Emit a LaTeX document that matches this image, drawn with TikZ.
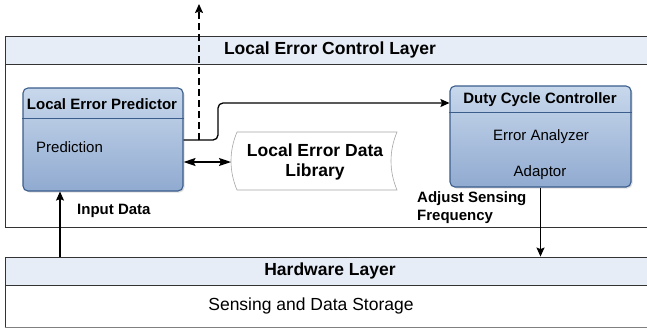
\documentclass[tikz,border=0pt]{standalone}
\usepackage{fontspec}
\setmainfont{Liberation Sans}
\usetikzlibrary{positioning,arrows.meta,calc,shadows}

\definecolor{headblue}{HTML}{E6EDF7}
\definecolor{boxtop}{HTML}{C8D8EC}
\definecolor{boxbottom}{HTML}{90AAD0}
\definecolor{boxline}{HTML}{3A5D8C}
\definecolor{layerline}{HTML}{333333}

\tikzset{
  layerhead/.style={draw=layerline, fill=headblue, line width=0.9pt, minimum width=650pt,
    minimum height=28pt, inner sep=0pt, font=\bfseries\fontsize{17.5}{20}\selectfont},
  layerbody/.style={draw=layerline, fill=white, line width=0.9pt, minimum width=650pt,
    inner sep=0pt, font=\fontsize{17.5}{20}\selectfont},
  unitbox/.style={draw=boxline, line width=1.1pt, rounded corners=5pt, top color=boxtop,
    bottom color=boxbottom, drop shadow={opacity=0.25, shadow xshift=1.5pt, shadow yshift=-1.5pt}},
  unittitle/.style={inner sep=0pt, font=\bfseries\fontsize{15}{18}\selectfont},
  unittext/.style={inner sep=0pt, font=\fontsize{15}{18}\selectfont},
  edgelabel/.style={inner sep=0pt, align=left, font=\bfseries\fontsize{15}{18}\selectfont},
  conn/.style={line width=1.3pt, -{Stealth[length=9pt,width=8pt,inset=1.5pt]}},
  biconn/.style={line width=1.3pt, {Stealth[length=12pt,width=8pt,inset=2pt]}-{Stealth[length=12pt,width=8pt,inset=2pt]}}
}

\begin{document}
\begin{tikzpicture}[x=1pt, y=-1pt]
  \clip (0,0) rectangle (647,330);
  \fill[white] (0,0) rectangle (647,330);

  % Draw the layers
  \node[layerbody, minimum height=163pt] (ctrlbody) at (330,145.5) {};
  \node[layerhead] (ctrlhead) at (330,50) {Local Error Control Layer};
  \node[layerbody, minimum height=42pt] (hwbody) at (330,306) {};
  \node[layerhead] (hwhead) at (330,271) {Hardware Layer};
  \node[unittext, font=\fontsize{17.5}{20}\selectfont] (hwtext) at (311,306) {Sensing and Data Storage};
  \draw[gray, line width=1.6pt] (hwbody.south west) -- (hwbody.south east);

  % Draw the predictor
  \node[unitbox, minimum width=160pt, minimum height=103pt] (pred) at (103,139.5) {};
  \draw[boxline, line width=0.6pt] ($(pred.north west)+(0,31)$) -- ($(pred.north east)+(0,31)$);
  \node[unittitle] (predtitle) at (102,104) {Local Error Predictor};
  \node[unittext, anchor=west] (predtext) at (36,147) {Prediction};

  % Draw the controller
  \node[unitbox, minimum width=181pt, minimum height=101pt] (duty) at (540.5,136.5) {};
  \draw[boxline, line width=0.6pt] ($(duty.north west)+(0,27)$) -- ($(duty.north east)+(0,27)$);
  \node[unittitle] (dutytitle) at (540,100) {Duty Cycle Controller};
  \node[unittext] (analyzer) at (541,137) {Error Analyzer};
  \node[unittext] (adaptor) at (540,173) {Adaptor};

  % Draw the data library
  \draw[gray!70, line width=0.6pt, fill=white] (237,132) -- (397,132)
    .. controls (389,151) and (389,171) .. (397,190) -- (237,190)
    .. controls (229,171) and (229,151) .. (237,132) -- cycle;
  \node[unittitle, font=\bfseries\fontsize{17.5}{20}\selectfont, align=center] (lib) at (315,162) {Local Error Data\\Library};

  % Define the connector points
  \coordinate (split) at (199,140);
  \coordinate (bend) at (218,103);
  \coordinate (top) at (199,4);
  \coordinate (libwest) at (231,162);
  \coordinate (inx) at (60,224);

  % Draw the connectors
  \draw[conn, rounded corners=5pt] (pred.east |- split) -| (bend) -- (duty.west |- bend);
  \draw[conn, dash pattern=on 7pt off 4pt] (split) -- (top);
  \draw[biconn] (pred.east |- libwest) -- (libwest);
  \draw[conn] (hwhead.north -| inx) -- (pred.south -| inx);
  \draw[conn] (duty.south) -- (duty.south |- hwhead.north);

  % Draw the labels
  \node[edgelabel, anchor=west] (inlabel) at (77,211) {Input Data};
  \node[edgelabel, anchor=north west] (adjlabel) at (417,191) {Adjust Sensing\\Frequency};
\end{tikzpicture}
\end{document}
